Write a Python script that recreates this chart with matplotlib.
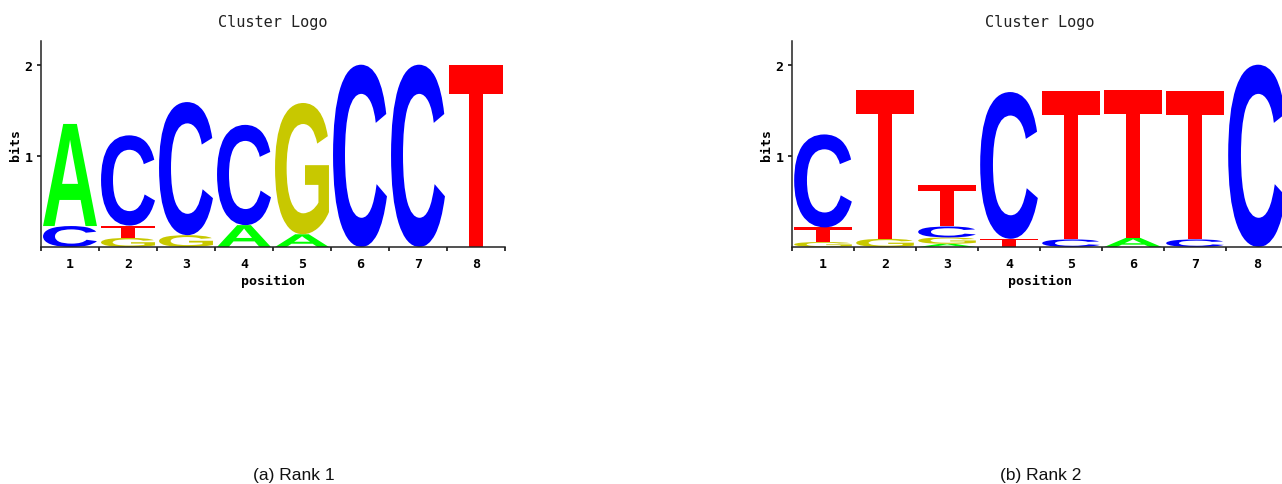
import matplotlib
matplotlib.use('Agg')
import matplotlib.pyplot as plt
from matplotlib.textpath import TextPath
from matplotlib.patches import PathPatch
from matplotlib.transforms import Affine2D
from matplotlib.font_manager import FontProperties

# [ DATA ] information (bits) per base and position, read from the logos
positions = [1, 2, 3, 4, 5, 6, 7, 8]
bases = ['A', 'C', 'G', 'T']

rank1_A = [1.12, 0.00, 0.00, 0.24, 0.14, 0.00, 0.00, 0.00]
rank1_C = [0.23, 0.99, 1.46, 1.10, 0.00, 2.00, 2.00, 0.00]
rank1_G = [0.00, 0.10, 0.13, 0.00, 1.44, 0.00, 0.00, 0.00]
rank1_T = [0.00, 0.135, 0.00, 0.00, 0.00, 0.00, 0.00, 2.00]

rank2_A = [0.00, 0.00, 0.035, 0.00, 0.00, 0.10, 0.00, 0.00]
rank2_C = [1.02, 0.00, 0.12, 1.61, 0.083, 0.00, 0.083, 2.00]
rank2_G = [0.055, 0.09, 0.07, 0.00, 0.00, 0.00, 0.00, 0.00]
rank2_T = [0.16, 1.63, 0.46, 0.09, 1.63, 1.62, 1.63, 0.00]

captions = ['(a) Rank 1', '(b) Rank 2']

base_colors = {'A': '#00FF00', 'C': '#0000FF', 'G': '#C8C800', 'T': '#FF0000'}

letter_font = FontProperties(family='Liberation Sans', weight='bold')
mono = 'DejaVu Sans Mono'

W, H = 1282, 485


def draw_letter(ax, ch, x, y0, h, w=0.93):
    # stretch glyph outline so it fills the box [x-w/2, x+w/2] x [y0, y0+h]
    tp = TextPath((0, 0), ch, size=1, prop=letter_font)
    bb = tp.get_extents()
    tr = Affine2D().translate(-bb.x0, -bb.y0) \
        .scale(w / bb.width, h / bb.height) \
        .translate(x - w / 2, y0)
    ax.add_patch(PathPatch(tr.transform_path(tp), fc=base_colors[ch], ec='none', lw=0))


def draw_logo(ax, heights):
    for i, pos in enumerate(positions):
        # smallest letter at the bottom, largest on top
        column = sorted([(heights[b][i], b) for b in bases if heights[b][i] > 0])
        y = 0.0
        for h, b in column:
            draw_letter(ax, b, pos, y, h)
            y += h

    ax.set_xlim(0.5, 8.5)
    ax.set_ylim(0, 2.26)
    for side in ['top', 'right']:
        ax.spines[side].set_visible(False)
    for side in ['left', 'bottom']:
        ax.spines[side].set_linewidth(1.1)
        ax.spines[side].set_color('#222222')

    ax.set_xticks(positions)
    ax.set_xticks([p - 0.5 for p in positions] + [8.5], minor=True)
    ax.set_yticks([1, 2])
    ax.tick_params(axis='x', which='major', length=0, pad=7)
    ax.tick_params(axis='x', which='minor', length=3, width=1.1, direction='out')
    ax.tick_params(axis='y', which='major', length=3, width=1.1, pad=3)
    for lbl in ax.get_xticklabels() + ax.get_yticklabels():
        lbl.set_family(mono)
        lbl.set_fontweight('bold')
        lbl.set_fontsize(9.5)

    ax.set_xlabel('position', family=mono, fontweight='bold', fontsize=9.5, labelpad=3)
    ax.set_ylabel('bits', family=mono, fontweight='bold', fontsize=9.5, labelpad=2)
    ax.set_title('Cluster Logo', family=mono, fontsize=11, pad=11, color='#222222')


fig = plt.figure(figsize=(W / 100, H / 100), dpi=100)

ax1 = fig.add_axes([41 / W, (H - 248) / H, 464 / W, 206 / H])
ax2 = fig.add_axes([792 / W, (H - 248) / H, 496 / W, 206 / H])

draw_logo(ax1, {'A': rank1_A, 'C': rank1_C, 'G': rank1_G, 'T': rank1_T})
draw_logo(ax2, {'A': rank2_A, 'C': rank2_C, 'G': rank2_G, 'T': rank2_T})

fig.text(293.5 / W, 1 - 475.5 / H, captions[0], ha='center', va='center',
         family='Liberation Sans', fontsize=12.5, color='#111111')
fig.text(1041 / W, 1 - 475.5 / H, captions[1], ha='center', va='center',
         family='Liberation Sans', fontsize=12.5, color='#111111')

fig.savefig('out.png', dpi=100)
